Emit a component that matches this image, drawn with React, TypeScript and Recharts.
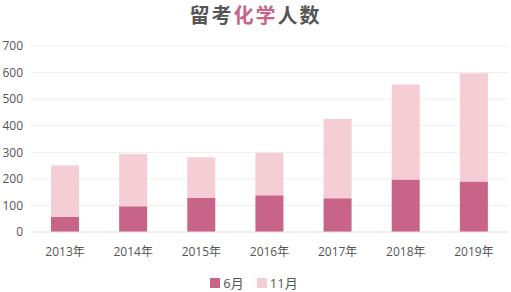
import { BarChart, Bar, XAxis, YAxis, CartesianGrid, Legend } from 'recharts'

const years = ['2013年', '2014年', '2015年', '2016年', '2017年', '2018年', '2019年']
const june = [57, 97, 129, 138, 127, 198, 190]
const november = [193, 197, 152, 160, 298, 357, 407]
const yTicks = [0, 100, 200, 300, 400, 500, 600, 700]

const data = years.map((year, i) => ({ year, june: june[i], november: november[i] }))

const FONT = '"Open Sans", "Noto Sans CJK SC", sans-serif'
const DARK = '#c76488'
const LIGHT = '#f5cdd4'

const renderLegend = () => (
  <div style={{
    display: 'flex', justifyContent: 'center', gap: 13, paddingTop: 11,
    fontFamily: FONT, fontSize: 13, lineHeight: '16px', color: '#555',
  }}>
    <span style={{ display: 'flex', alignItems: 'center' }}>
      <span style={{ width: 10, height: 10, background: DARK, marginRight: 3 }} />6月
    </span>
    <span style={{ display: 'flex', alignItems: 'center' }}>
      <span style={{ width: 10, height: 10, background: LIGHT, marginRight: 3 }} />11月
    </span>
  </div>
)

export default function App() {
  return (
    <div style={{ position: 'absolute', left: 0, top: 0, width: 511, height: 292, background: '#fff' }}>
      <div style={{
        position: 'absolute', top: 0, left: 0, width: 511, textAlign: 'center',
        fontFamily: FONT, fontSize: 20, fontWeight: 700, color: '#555', letterSpacing: 2,
      }}>
        留考<span style={{ color: DARK }}>化学</span>人数
      </div>
      <BarChart width={511} height={292} data={data} margin={{ top: 46, right: 3, left: 0, bottom: 4 }}>
        <CartesianGrid stroke="#eeeeee" vertical={false} />
        <XAxis
          dataKey="year"
          height={32}
          tickLine={false}
          axisLine={{ stroke: '#e6e6e6' }}
          tick={{ fontSize: 12, fill: '#555', fontFamily: FONT }}
          tickMargin={9}
        />
        <YAxis
          width={31}
          ticks={yTicks}
          domain={[0, 700]}
          tickLine={false}
          axisLine={false}
          interval={0}
          tick={{ fontSize: 12, fill: '#555', fontFamily: FONT }}
        />
        <Legend verticalAlign="bottom" height={24} content={renderLegend} />
        <Bar dataKey="june" stackId="a" fill={DARK} barSize={28} isAnimationActive={false} />
        <Bar dataKey="november" stackId="a" fill={LIGHT} barSize={28} isAnimationActive={false} />
      </BarChart>
    </div>
  )
}
